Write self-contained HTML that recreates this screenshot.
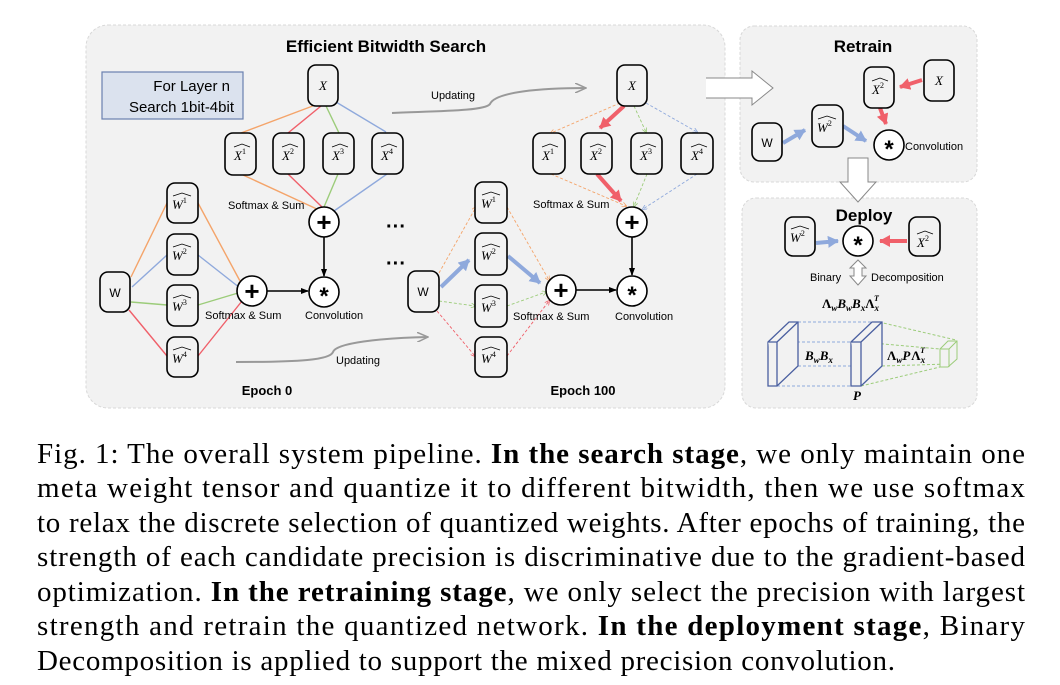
<!DOCTYPE html>
<html><head><meta charset="utf-8"><style>
html,body{margin:0;padding:0;background:#fff;}
svg{display:block;}
</style></head><body>
<svg width="1060" height="685" viewBox="0 0 1060 685" xmlns="http://www.w3.org/2000/svg" font-family="Liberation Sans, Arial, sans-serif">
<defs>
<marker id="ab" markerWidth="8" markerHeight="8" refX="7" refY="4" orient="auto" markerUnits="userSpaceOnUse"><path d="M0,1 L8,4 L0,7 z" fill="#000"/></marker>
<marker id="ag" markerWidth="12" markerHeight="10" refX="11" refY="5" orient="auto" markerUnits="userSpaceOnUse"><path d="M0,0 L11,5 L0,10" fill="none" stroke="#999" stroke-width="1.5"/></marker>
<marker id="ar" markerWidth="12" markerHeight="12" refX="10" refY="6" orient="auto" markerUnits="userSpaceOnUse"><path d="M0,0 L11,6 L0,12 z" fill="#f0606a"/></marker>
<marker id="abl" markerWidth="12" markerHeight="12" refX="10" refY="6" orient="auto" markerUnits="userSpaceOnUse"><path d="M0,0 L11,6 L0,12 z" fill="#8fa9dc"/></marker>
<marker id="sm" markerWidth="5" markerHeight="5" refX="4" refY="2.5" orient="auto" markerUnits="userSpaceOnUse"><path d="M0,0 L5,2.5 L0,5" fill="none" stroke="context-stroke" stroke-width="0.8"/></marker>
</defs>

<!-- panels -->
<rect x="86" y="25" width="639" height="383" rx="22" fill="#f2f2f2" stroke="#d8d8d8" stroke-dasharray="3,2"/>
<rect x="740" y="26" width="237" height="156" rx="14" fill="#f2f2f2" stroke="#d8d8d8" stroke-dasharray="3,2"/>
<rect x="742" y="198" width="235" height="210" rx="14" fill="#f2f2f2" stroke="#d8d8d8" stroke-dasharray="3,2"/>

<text x="386" y="52" font-size="17" font-weight="bold" text-anchor="middle">Efficient Bitwidth Search</text>
<text x="863" y="52" font-size="17" font-weight="bold" text-anchor="middle">Retrain</text>
<text x="864" y="221" font-size="17" font-weight="bold" text-anchor="middle">Deploy</text>

<rect x="102" y="72" width="141" height="47" fill="#dbe2ee" stroke="#6a80b0" stroke-width="1.2"/>
<text x="230" y="91" font-size="15" text-anchor="end">For Layer n</text>
<text x="234" y="112" font-size="15" text-anchor="end">Search 1bit-4bit</text>

<!-- hollow arrows -->
<path d="M706,78 L752,78 L752,71 L773,88 L752,105 L752,98 L706,98" fill="#fff" stroke="#888" stroke-width="1"/>
<path d="M848,158 L848,182 L840,182 L858,202 L876,182 L868,182 L868,158 z" fill="#fff" stroke="#888" stroke-width="1"/>

<!-- ===== Epoch 0 ===== -->
<g stroke-width="1.4" fill="none">
<line x1="318" y1="104" x2="241" y2="133" stroke="#f4a46a"/>
<line x1="321" y1="106" x2="288" y2="133" stroke="#f0606a"/>
<line x1="326" y1="106" x2="339" y2="133" stroke="#9ccc7a"/>
<line x1="336" y1="102" x2="386" y2="132" stroke="#8fa9dc"/>
<line x1="243" y1="175" x2="319" y2="210" stroke="#f4a46a"/>
<line x1="288" y1="174" x2="322" y2="207" stroke="#f0606a"/>
<line x1="338" y1="174" x2="324" y2="207" stroke="#9ccc7a"/>
<line x1="387" y1="174" x2="334" y2="211" stroke="#8fa9dc"/>
<line x1="131" y1="277" x2="167" y2="203" stroke="#f4a46a"/>
<line x1="132" y1="287" x2="167" y2="255" stroke="#8fa9dc"/>
<line x1="131" y1="302" x2="167" y2="305" stroke="#9ccc7a"/>
<line x1="129" y1="310" x2="167" y2="356" stroke="#f0606a"/>
<line x1="198" y1="203" x2="240" y2="281" stroke="#f4a46a"/>
<line x1="198" y1="255" x2="240" y2="288" stroke="#8fa9dc"/>
<line x1="198" y1="305" x2="238" y2="293" stroke="#9ccc7a"/>
<line x1="198" y1="356" x2="242" y2="301" stroke="#f0606a"/>
</g>
<line x1="324" y1="237" x2="324" y2="276" stroke="#000" stroke-width="1.6" marker-end="url(#ab)"/>
<line x1="267" y1="291" x2="308" y2="291" stroke="#000" stroke-width="1.6" marker-end="url(#ab)"/>

<!-- ===== Epoch 100 ===== -->
<g stroke-width="0.9" fill="none" stroke-dasharray="3,2">
<line x1="620" y1="103" x2="551" y2="133" stroke="#f4a46a" marker-end="url(#sm)"/>
<line x1="634" y1="106" x2="646" y2="132" stroke="#9ccc7a" marker-end="url(#sm)"/>
<line x1="646" y1="103" x2="697" y2="132" stroke="#8fa9dc" marker-end="url(#sm)"/>
<line x1="551" y1="174" x2="626" y2="206" stroke="#f4a46a" marker-end="url(#sm)"/>
<line x1="647" y1="174" x2="634" y2="206" stroke="#9ccc7a" marker-end="url(#sm)"/>
<line x1="697" y1="174" x2="643" y2="209" stroke="#8fa9dc" marker-end="url(#sm)"/>
<line x1="439" y1="273" x2="476" y2="207" stroke="#f4a46a" marker-end="url(#sm)"/>
<line x1="439" y1="301" x2="475" y2="306" stroke="#9ccc7a" marker-end="url(#sm)"/>
<line x1="437" y1="311" x2="475" y2="356" stroke="#f0606a" marker-end="url(#sm)"/>
<line x1="507" y1="207" x2="549" y2="280" stroke="#f4a46a" marker-end="url(#sm)"/>
<line x1="507" y1="306" x2="546" y2="292" stroke="#9ccc7a" marker-end="url(#sm)"/>
<line x1="507" y1="356" x2="549" y2="301" stroke="#f0606a" marker-end="url(#sm)"/>
</g>
<line x1="624" y1="106" x2="600" y2="128" stroke="#f0606a" stroke-width="4" marker-end="url(#ar)"/>
<line x1="597" y1="174" x2="621" y2="201" stroke="#f0606a" stroke-width="4" marker-end="url(#ar)"/>
<line x1="441" y1="287" x2="469" y2="260" stroke="#8fa9dc" stroke-width="4" marker-end="url(#abl)"/>
<line x1="508" y1="256" x2="540" y2="283" stroke="#8fa9dc" stroke-width="4" marker-end="url(#abl)"/>
<line x1="632" y1="237" x2="632" y2="275" stroke="#000" stroke-width="1.6" marker-end="url(#ab)"/>
<line x1="576" y1="290" x2="616" y2="290" stroke="#000" stroke-width="1.6" marker-end="url(#ab)"/>

<!-- updating arrows -->
<path d="M236,362 C300,362 330,360 333,352 C336,343 380,338 428,337" fill="none" stroke="#999" stroke-width="2" marker-end="url(#ag)"/>
<text x="336" y="364" font-size="11">Updating</text>
<path d="M392,113 C440,111 485,111 490,104 C495,92 540,88 586,88" fill="none" stroke="#999" stroke-width="2" marker-end="url(#ag)"/>
<text x="431" y="99" font-size="11">Updating</text>

<!-- dots -->
<text x="396" y="233" font-size="20" font-weight="bold" text-anchor="middle">···</text>
<text x="396" y="270" font-size="20" font-weight="bold" text-anchor="middle">···</text>

<!-- Retrain/deploy arrows -->
<line x1="922" y1="80" x2="900" y2="87" stroke="#f0606a" stroke-width="4" marker-end="url(#ar)"/>
<line x1="880" y1="108" x2="886" y2="124" stroke="#f0606a" stroke-width="4" marker-end="url(#ar)"/>
<line x1="783" y1="143" x2="805" y2="130" stroke="#8fa9dc" stroke-width="4" marker-end="url(#abl)"/>
<line x1="843" y1="126" x2="866" y2="141" stroke="#8fa9dc" stroke-width="4" marker-end="url(#abl)"/>
<line x1="816" y1="243" x2="838" y2="241" stroke="#8fa9dc" stroke-width="4" marker-end="url(#abl)"/>
<line x1="907" y1="241" x2="880" y2="241" stroke="#f0606a" stroke-width="4" marker-end="url(#ar)"/>
<path d="M858,260 L866,268 L862,268 L862,276 L866,276 L858,285 L850,276 L854,276 L854,268 L850,268 z" fill="#fff" stroke="#888" stroke-width="1"/>

<!-- nodes -->
<g fill="#f2f2f2" stroke="#000" stroke-width="1.6">
<rect x="308" y="65" width="30" height="41" rx="8"/>
<rect x="225" y="133" width="31" height="42" rx="8"/>
<rect x="273" y="133" width="31" height="41" rx="8"/>
<rect x="323" y="133" width="31" height="41" rx="8"/>
<rect x="372" y="133" width="31" height="41" rx="8"/>
<rect x="100" y="272" width="30" height="40" rx="8"/>
<rect x="167" y="183" width="31" height="40" rx="8"/>
<rect x="167" y="234" width="31" height="41" rx="8"/>
<rect x="167" y="285" width="31" height="41" rx="8"/>
<rect x="167" y="337" width="31" height="40" rx="8"/>
<rect x="617" y="65" width="30" height="41" rx="8"/>
<rect x="533" y="133" width="32" height="41" rx="8"/>
<rect x="581" y="133" width="31" height="41" rx="8"/>
<rect x="631" y="133" width="31" height="41" rx="8"/>
<rect x="681" y="133" width="32" height="41" rx="8"/>
<rect x="408" y="271" width="31" height="41" rx="8"/>
<rect x="475" y="182" width="32" height="41" rx="8"/>
<rect x="475" y="233" width="32" height="42" rx="8"/>
<rect x="475" y="285" width="32" height="42" rx="8"/>
<rect x="475" y="337" width="32" height="40" rx="8"/>
<rect x="864" y="67" width="30" height="41" rx="8"/>
<rect x="924" y="60" width="30" height="41" rx="8"/>
<rect x="752" y="123" width="30" height="38" rx="8"/>
<rect x="812" y="105" width="31" height="42" rx="8"/>
<rect x="785" y="217" width="30" height="39" rx="8"/>
<rect x="909" y="217" width="31" height="39" rx="8"/>
</g>
<g fill="#fff" stroke="#000" stroke-width="1.6">
<circle cx="324" cy="222" r="15"/><circle cx="324" cy="292" r="15"/><circle cx="252" cy="291" r="15"/>
<circle cx="632" cy="222" r="15"/><circle cx="632" cy="291" r="15"/><circle cx="561" cy="290" r="15"/>
<circle cx="889" cy="145" r="15"/><circle cx="858" cy="241" r="15"/>
</g>
<g font-size="26" font-weight="bold" text-anchor="middle">
<text x="324" y="231">+</text><text x="252" y="300">+</text><text x="632" y="231">+</text><text x="561" y="299">+</text>
</g>
<g font-size="24" font-weight="bold" text-anchor="middle">
<text x="324" y="304">*</text><text x="632" y="303">*</text><text x="889" y="157">*</text><text x="858" y="253">*</text>
</g>

<!-- node labels -->
<g font-family="Liberation Serif, serif" font-style="italic" font-size="13" text-anchor="middle">
<text x="323" y="90">X</text><text x="632" y="90">X</text><text x="939" y="85">X</text>
</g>
<g font-size="12" text-anchor="middle"><text x="115" y="297">W</text><text x="423" y="296">W</text><text x="767" y="147">W</text></g>
<g font-family="Liberation Serif, serif" font-size="13">
<g font-style="italic">
<text x="234" y="160">X<tspan font-style="normal" font-size="8" dy="-6">1</tspan></text>
<text x="282" y="160">X<tspan font-style="normal" font-size="8" dy="-6">2</tspan></text>
<text x="332" y="160">X<tspan font-style="normal" font-size="8" dy="-6">3</tspan></text>
<text x="381" y="160">X<tspan font-style="normal" font-size="8" dy="-6">4</tspan></text>
<text x="542" y="160">X<tspan font-style="normal" font-size="8" dy="-6">1</tspan></text>
<text x="590" y="160">X<tspan font-style="normal" font-size="8" dy="-6">2</tspan></text>
<text x="640" y="160">X<tspan font-style="normal" font-size="8" dy="-6">3</tspan></text>
<text x="691" y="160">X<tspan font-style="normal" font-size="8" dy="-6">4</tspan></text>
<text x="872" y="94">X<tspan font-style="normal" font-size="8" dy="-6">2</tspan></text>
<text x="917" y="247">X<tspan font-style="normal" font-size="8" dy="-6">2</tspan></text>
<text x="172" y="209">W<tspan font-style="normal" font-size="8" dy="-6">1</tspan></text>
<text x="172" y="260">W<tspan font-style="normal" font-size="8" dy="-6">2</tspan></text>
<text x="172" y="311">W<tspan font-style="normal" font-size="8" dy="-6">3</tspan></text>
<text x="172" y="363">W<tspan font-style="normal" font-size="8" dy="-6">4</tspan></text>
<text x="481" y="208">W<tspan font-style="normal" font-size="8" dy="-6">1</tspan></text>
<text x="481" y="260">W<tspan font-style="normal" font-size="8" dy="-6">2</tspan></text>
<text x="481" y="312">W<tspan font-style="normal" font-size="8" dy="-6">3</tspan></text>
<text x="481" y="363">W<tspan font-style="normal" font-size="8" dy="-6">4</tspan></text>
<text x="817" y="132">W<tspan font-style="normal" font-size="8" dy="-6">2</tspan></text>
<text x="790" y="242">W<tspan font-style="normal" font-size="8" dy="-6">2</tspan></text>
</g>
</g>
<g fill="none" stroke="#000" stroke-width="0.8">
<path d="M234,147 l8,-3 l8,3"/><path d="M282,147 l8,-3 l8,3"/><path d="M332,147 l8,-3 l8,3"/><path d="M381,147 l8,-3 l8,3"/>
<path d="M542,147 l8,-3 l8,3"/><path d="M590,147 l8,-3 l8,3"/><path d="M640,147 l8,-3 l8,3"/><path d="M691,147 l8,-3 l8,3"/>
<path d="M872,81 l8,-3 l8,3"/><path d="M917,234 l8,-3 l8,3"/>
<path d="M173,196 l9,-3 l9,3"/><path d="M173,247 l9,-3 l9,3"/><path d="M173,298 l9,-3 l9,3"/><path d="M173,350 l9,-3 l9,3"/>
<path d="M482,195 l9,-3 l9,3"/><path d="M482,247 l9,-3 l9,3"/><path d="M482,299 l9,-3 l9,3"/><path d="M482,350 l9,-3 l9,3"/>
<path d="M818,119 l9,-3 l9,3"/><path d="M791,229 l9,-3 l9,3"/>
</g>

<!-- text labels -->
<g font-size="11">
<text x="228" y="209">Softmax &amp; Sum</text>
<text x="205" y="319">Softmax &amp; Sum</text>
<text x="305" y="319">Convolution</text>
<text x="533" y="208">Softmax &amp; Sum</text>
<text x="513" y="320">Softmax &amp; Sum</text>
<text x="615" y="320">Convolution</text>
<text x="905" y="150">Convolution</text>
<text x="810" y="281">Binary</text>
<text x="871" y="281">Decomposition</text>
</g>
<text x="267" y="395" font-size="13" font-weight="bold" text-anchor="middle">Epoch 0</text>
<text x="583" y="395" font-size="13" font-weight="bold" text-anchor="middle">Epoch 100</text>

<!-- deploy formulas and slabs -->
<g font-family="Liberation Serif, serif" font-weight="bold" font-size="13">
<text x="822" y="308">Λ<tspan font-style="italic" font-size="9" dy="3">w</tspan><tspan font-style="italic" dy="-3">B</tspan><tspan font-style="italic" font-size="9" dy="3">w</tspan><tspan font-style="italic" dy="-3">B</tspan><tspan font-style="italic" font-size="9" dy="3">x</tspan><tspan dy="-3">Λ</tspan><tspan font-style="italic" font-size="9" dy="3">x</tspan><tspan font-style="italic" font-size="8" dx="-5" dy="-10">T</tspan></text>
<text x="805" y="360"><tspan font-style="italic">B</tspan><tspan font-style="italic" font-size="9" dy="3">w</tspan><tspan font-style="italic" dy="-3">B</tspan><tspan font-style="italic" font-size="9" dy="3">x</tspan></text>
<text x="887" y="360">Λ<tspan font-style="italic" font-size="9" dy="3">w</tspan><tspan font-style="italic" dy="-3">P</tspan><tspan dx="1">Λ</tspan><tspan font-style="italic" font-size="9" dy="3">x</tspan><tspan font-style="italic" font-size="8" dx="-5" dy="-10">T</tspan></text>
<text x="853" y="400" font-style="italic">P</text>
</g>
<g fill="none" stroke="#8fa9dc" stroke-width="1" stroke-dasharray="3,2">
<line x1="798" y1="322" x2="879" y2="322"/>
<line x1="777" y1="342" x2="851" y2="342"/>
<line x1="777" y1="386" x2="851" y2="386"/>
<line x1="798" y1="366" x2="851" y2="366"/>
</g>
<g fill="none" stroke="#9ccc7a" stroke-width="1" stroke-dasharray="3,2">
<line x1="879" y1="322" x2="956" y2="340"/>
<line x1="861" y1="342" x2="940" y2="349"/>
<line x1="861" y1="386" x2="940" y2="367"/>
<line x1="882" y1="366" x2="948" y2="364"/>
</g>
<g fill="#f2f2f2" stroke="#4a5fa0" stroke-width="1.3">
<path d="M768,342 L789,322 L798,322 L798,366 L777,386 L768,386 z"/>
<path d="M777,342 L798,322 M768,342 L777,342 L777,386"/>
<path d="M851,342 L872,322 L882,322 L882,366 L861,386 L851,386 z"/>
<path d="M861,342 L882,322 M851,342 L861,342 L861,386"/>
</g>
<g fill="#f2f2f2" stroke="#9ccc7a" stroke-width="1">
<path d="M940,349 L948,341 L957,341 L957,359 L948,367 L940,367 z"/>
<path d="M949,349 L957,341 M940,349 L949,349 L949,367"/>
</g>

<!-- caption -->
<g font-family="Liberation Serif, serif" font-size="29" fill="#000">
<text x="37" y="463" textLength="988" lengthAdjust="spacing">Fig. 1: The overall system pipeline. <tspan font-weight="bold">In the search stage</tspan>, we only maintain one</text>
<text x="37" y="497" textLength="988" lengthAdjust="spacing">meta weight tensor and quantize it to different bitwidth, then we use softmax</text>
<text x="37" y="532" textLength="988" lengthAdjust="spacing">to relax the discrete selection of quantized weights. After epochs of training, the</text>
<text x="37" y="566" textLength="988" lengthAdjust="spacing">strength of each candidate precision is discriminative due to the gradient-based</text>
<text x="37" y="601" textLength="988" lengthAdjust="spacing">optimization. <tspan font-weight="bold">In the retraining stage</tspan>, we only select the precision with largest</text>
<text x="37" y="635" textLength="988" lengthAdjust="spacing">strength and retrain the quantized network. <tspan font-weight="bold">In the deployment stage</tspan>, Binary</text>
<text x="37" y="670" textLength="858" lengthAdjust="spacing">Decomposition is applied to support the mixed precision convolution.</text>
</g>
</svg>
</body></html>
